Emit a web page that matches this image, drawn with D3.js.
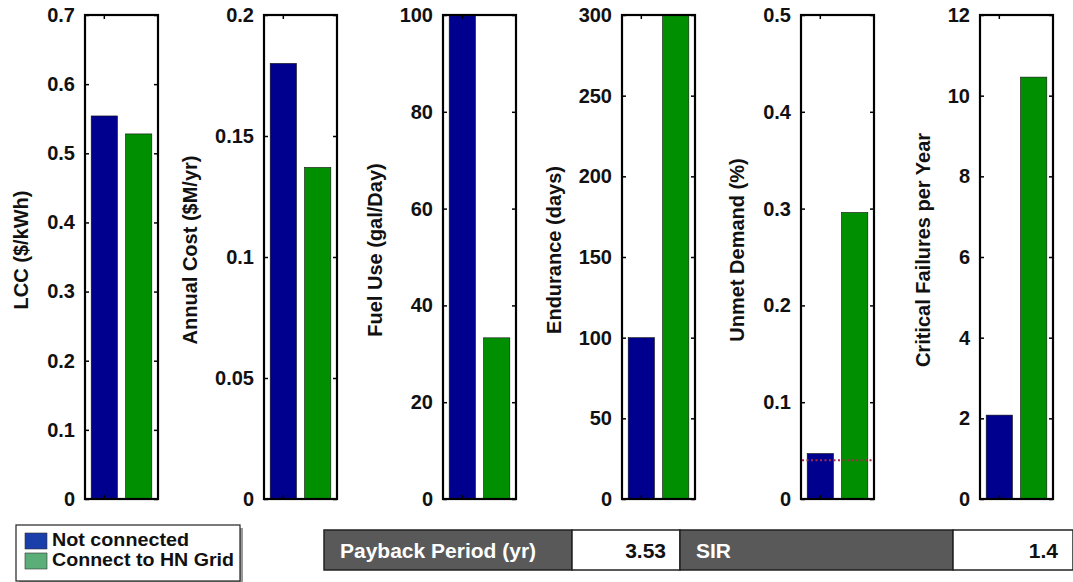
<!DOCTYPE html>
<html>
<head>
<meta charset="utf-8">
<script src="https://cdn.jsdelivr.net/npm/d3@7"></script>
<style>
  body { margin: 0; background: #fff; }
  svg text { font-family: "Liberation Sans", Arial, sans-serif; font-weight: bold; }
</style>
</head>
<body>
<div id="chart"></div>
<script>
// panel data
var yLabels = ["LCC ($/kWh)", "Annual Cost ($M/yr)", "Fuel Use (gal/Day)", "Endurance (days)", "Unmet Demand (%)", "Critical Failures per Year"];
var yMax = [0.7, 0.2, 100, 300, 0.5, 12];
var tickCounts = [7, 4, 5, 6, 5, 6];
var notConnected = [0.554, 0.180, 100, 100, 0.047, 2.08];
var connectGrid = [0.528, 0.137, 33.3, 300, 0.296, 10.46];
var unmetLimit = 0.04; // red dotted line, panel 5
var seriesNames = ["Not connected", "Connect to HN Grid"];
var barColors = ["#00008f", "#008f00"];
var legendColors = ["#1a3eaa", "#5cae78"];
var tableLabels = ["Payback Period (yr)", "SIR"];
var tableValues = ["3.53", "1.4"];

var W = 1073, H = 582;
var plotTop = 15, plotBottom = 499;
var panelW = 73, panelStep = 179, firstLeft = 85;

var svg = d3.select("#chart").append("svg")
  .attr("width", W).attr("height", H);

var x = d3.scaleBand()
  .domain([0, 1])
  .range([0, panelW])
  .paddingInner(0.235)
  .paddingOuter(0.18);

yLabels.forEach(function(label, i) {
  var left = firstLeft + i * panelStep;
  var y = d3.scaleLinear().domain([0, yMax[i]]).range([plotBottom, plotTop]);
  var g = svg.append("g").attr("transform", "translate(" + left + ",0)");

  // clip so clipped bars stop at the frame
  g.append("clipPath").attr("id", "clip" + i)
    .append("rect").attr("x", 0).attr("y", plotTop).attr("width", panelW).attr("height", plotBottom - plotTop);

  var vals = [notConnected[i], connectGrid[i]];
  g.append("g").attr("clip-path", "url(#clip" + i + ")")
    .selectAll("rect").data(vals).enter().append("rect")
    .attr("x", function(d, j) { return x(j); })
    .attr("width", x.bandwidth())
    .attr("y", function(d) { return y(d); })
    .attr("height", function(d) { return plotBottom - y(d); })
    .attr("fill", function(d, j) { return barColors[j]; })
    .attr("stroke", "#111")
    .attr("stroke-width", 0.6);

  if (i === 4) {
    g.append("line")
      .attr("x1", 1).attr("x2", panelW - 1)
      .attr("y1", y(unmetLimit)).attr("y2", y(unmetLimit))
      .attr("stroke", "#a8284a").attr("stroke-width", 2)
      .attr("stroke-dasharray", "2,2.5");
  }

  var ticks = y.ticks(tickCounts[i]);
  var fmt = d3.format("~g");

  // left axis with labels, ticks pointing inward
  var axisL = g.append("g")
    .call(d3.axisLeft(y).tickValues(ticks).tickSizeInner(-4).tickSizeOuter(0).tickPadding(10).tickFormat(fmt));
  axisL.select(".domain").remove();
  axisL.selectAll("line").attr("stroke", "#000").attr("stroke-width", 1.5);
  axisL.selectAll("text").attr("font-size", 20).attr("fill", "#111");

  var axisR = g.append("g").attr("transform", "translate(" + panelW + ",0)")
    .call(d3.axisRight(y).tickValues(ticks).tickSizeInner(-4).tickSizeOuter(0).tickFormat(""));
  axisR.select(".domain").remove();
  axisR.selectAll("line").attr("stroke", "#000").attr("stroke-width", 1.5);

  // x tick at first bar centre, top and bottom
  var cx = x(0) + x.bandwidth() / 2;
  g.append("line").attr("x1", cx).attr("x2", cx).attr("y1", plotBottom).attr("y2", plotBottom - 4)
    .attr("stroke", "#000").attr("stroke-width", 1.5);
  g.append("line").attr("x1", cx).attr("x2", cx).attr("y1", plotTop).attr("y2", plotTop + 4)
    .attr("stroke", "#000").attr("stroke-width", 1.5);

  g.append("rect")
    .attr("x", 0).attr("y", plotTop).attr("width", panelW).attr("height", plotBottom - plotTop)
    .attr("fill", "none").attr("stroke", "#000").attr("stroke-width", 2.2);

  // y label placed left of the widest tick label
  var maxW = d3.max(axisL.selectAll("text").nodes(), function(n) { return n.getBBox().width; });
  var lx = -10 - maxW - 18;
  g.append("text")
    .attr("transform", "translate(" + lx + "," + 250 + ") rotate(-90)")
    .attr("text-anchor", "middle")
    .attr("font-size", 20)
    .attr("fill", "#111")
    .text(label);
});

// legend
var leg = svg.append("g");
leg.append("rect").attr("x", 19).attr("y", 528).attr("width", 224).attr("height", 56)
  .attr("fill", "#999");
leg.append("rect").attr("x", 16).attr("y", 525).attr("width", 224).attr("height", 56)
  .attr("fill", "#fff").attr("stroke", "#222").attr("stroke-width", 1.2);
seriesNames.forEach(function(name, j) {
  leg.append("rect").attr("x", 25).attr("y", 533 + j * 20).attr("width", 22).attr("height", 16)
    .attr("fill", legendColors[j]).attr("stroke", "#333").attr("stroke-width", 0.6);
  leg.append("text").attr("x", 52).attr("y", 546 + j * 20)
    .attr("font-size", 18).attr("fill", "#111")
    .attr("textLength", j === 0 ? 137 : 182).attr("lengthAdjust", "spacingAndGlyphs")
    .text(name);
});

// summary table
var cellX = [324, 572, 680, 953, 1073];
var tb = svg.append("g");
tableLabels.forEach(function(lab, k) {
  var x0 = cellX[k * 2], x1 = cellX[k * 2 + 1], x2 = cellX[k * 2 + 2];
  tb.append("rect").attr("x", x0).attr("y", 530).attr("width", x1 - x0).attr("height", 40)
    .attr("fill", "#595959").attr("stroke", "#222").attr("stroke-width", 1.5);
  tb.append("rect").attr("x", x1).attr("y", 530).attr("width", x2 - x1).attr("height", 40)
    .attr("fill", "#fff").attr("stroke", "#222").attr("stroke-width", 1.5);
  tb.append("text").attr("x", x0 + 16).attr("y", 558).attr("font-size", 21)
    .attr("fill", "#fff").text(lab);
  tb.append("text").attr("x", Math.min(x2, 1072) - 14).attr("y", 558).attr("font-size", 21)
    .attr("text-anchor", "end").attr("fill", "#111").text(tableValues[k]);
});
</script>
</body>
</html>
